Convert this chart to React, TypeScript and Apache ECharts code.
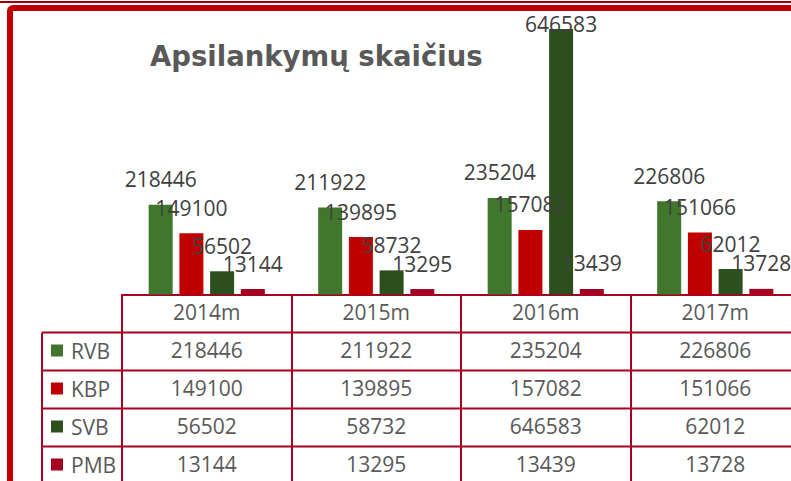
import React, { useEffect, useRef } from "react";
import * as echarts from "echarts";

const categories = ["2014m", "2015m", "2016m", "2017m"];
const seriesNames = ["RVB", "KBP", "SVB", "PMB"];
const rvb = [218446, 211922, 235204, 226806];
const kbp = [149100, 139895, 157082, 151066];
const svb = [56502, 58732, 646583, 62012];
const pmb = [13144, 13295, 13439, 13728];
const seriesValues = [rvb, kbp, svb, pmb];
const colors = ["#41772C", "#C00000", "#2C4F1D", "#A50021"];

const FONT = "'Open Sans', 'Noto Sans', sans-serif";
const LINE = "#A50021";
const AXIS_Y = 294.5;
const ROW_H = 38;
const TABLE_LEFT = 42;
const GRID_LEFT = 122;
const GRID_WIDTH = 678;

export default function App() {
  const ref = useRef<HTMLDivElement>(null);
  useEffect(() => {
    if (!ref.current) return;
    const chart = echarts.init(ref.current, null, { renderer: "svg" });

    const rich: Record<string, any> = {
      h: { fontSize: 21, lineHeight: ROW_H, color: "#595959", fontFamily: FONT },
      v: { fontSize: 21, lineHeight: ROW_H, color: "#595959", fontFamily: FONT },
    };

    const right = GRID_LEFT + GRID_WIDTH;
    const rowLines: any[] = [];
    for (let k = 1; k <= seriesNames.length; k++) {
      rowLines.push({
        type: "line",
        shape: { x1: TABLE_LEFT, y1: AXIS_Y + ROW_H * k, x2: right, y2: AXIS_Y + ROW_H * k },
        style: { stroke: LINE, lineWidth: 2 },
        z: 10,
      });
    }
    rowLines.push({
      type: "line",
      shape: { x1: TABLE_LEFT, y1: AXIS_Y + ROW_H, x2: TABLE_LEFT, y2: 500 },
      style: { stroke: LINE, lineWidth: 2 },
      z: 10,
    });

    const legends = seriesNames.map((name, i) => ({
      show: true,
      orient: "horizontal",
      left: 51,
      top: AXIS_Y + ROW_H * (i + 1) + ROW_H / 2 - 11.5,
      padding: 0,
      itemWidth: 12,
      itemHeight: 12,
      icon: "rect",
      data: [name],
      selectedMode: false,
      textStyle: {
        fontFamily: FONT,
        fontSize: 21,
        color: "#595959",
        padding: [0, 0, 0, 3],
      },
    }));

    const option: any = {
      animation: false,
      backgroundColor: "#ffffff",
      title: {
        text: "Apsilankymų skaičius",
        left: 150,
        top: 42,
        padding: 0,
        textStyle: {
          fontFamily: "'DejaVu Sans', sans-serif",
          fontWeight: "bold",
          fontSize: 27.5,
          color: "#595959",
        },
      },
      legend: legends,
      grid: {
        left: GRID_LEFT,
        width: GRID_WIDTH,
        top: 7,
        bottom: 481 - AXIS_Y,
        containLabel: false,
        outerBoundsMode: "none",
      },
      xAxis: {
        type: "category",
        data: categories,
        axisLine: { show: true, lineStyle: { color: LINE, width: 2 } },
        axisTick: { show: true, length: 200, lineStyle: { color: LINE, width: 2 } },
        axisLabel: {
          interval: 0,
          margin: -1.5,
          hideOverlap: false,
          formatter: (value: string, idx: number) =>
            ["{h|" + value + "}"].concat(seriesValues.map((arr) => "{v|" + arr[idx] + "}")).join("\n"),
          rich,
        },
        splitLine: { show: false },
      },
      yAxis: {
        type: "value",
        min: 0,
        max: 700000,
        show: false,
        splitLine: { show: false },
      },
      labelLayout: (params: any) => {
        const minTop = 13;
        if (params.labelRect && params.labelRect.y < minTop) {
          return { dy: minTop - params.labelRect.y };
        }
        return {};
      },
      series: seriesNames.map((name, i) => ({
        name,
        type: "bar",
        data: seriesValues[i],
        barWidth: 24,
        barGap: "28%",
        itemStyle: { color: colors[i] },
        label: {
          show: true,
          position: "top",
          distance: 15,
          fontFamily: FONT,
          fontSize: 21,
          color: "#404040",
        },
      })),
      graphic: [
        {
          type: "line",
          shape: { x1: 0, y1: 2, x2: 791, y2: 2 },
          style: { stroke: "#9E0000", lineWidth: 2 },
          z: 20,
        },
        {
          type: "rect",
          shape: { x: 10, y: 8, width: 820, height: 520, r: 3 },
          style: { fill: "none", stroke: "#C00000", lineWidth: 6 },
          z: 20,
        },
        ...rowLines,
      ],
    };
    chart.setOption(option);
    return () => chart.dispose();
  }, []);

  return (
    <div
      ref={ref}
      style={{ position: "absolute", left: 0, top: 0, width: 791, height: 481 }}
    />
  );
}
